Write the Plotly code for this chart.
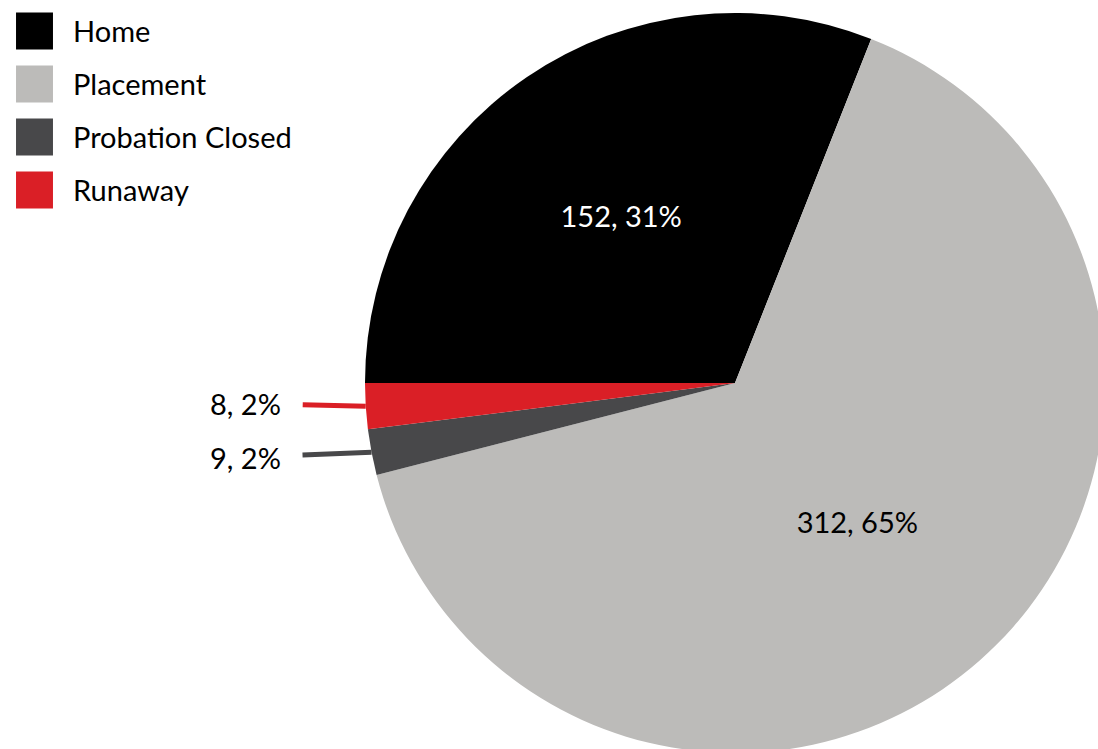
import math
import plotly.graph_objects as go

categories = ["Home", "Placement", "Probation Closed", "Runaway"]
counts = [152, 312, 9, 8]
percents = [31, 65, 2, 2]
colors = ["#000000", "#bcbbb9", "#48484a", "#da1f26"]
text_colors = ["#ffffff", "#000000", "#000000", "#000000"]
inside = ["inside", "inside", "none", "none"]

W, H = 1110, 760
mt, mb, ml, mr = 13, 7, 0, 0
dom_x = [0.3288, 0.9955]
dom_y = [0.0, 1.0]
FONT = "Lato"

labels_txt = [f"{c}, {p}%" for c, p in zip(counts, percents)]
total = sum(percents)

fig = go.Figure(go.Pie(
    labels=categories, values=percents, sort=False, direction="clockwise",
    rotation=-90, domain=dict(x=dom_x, y=dom_y),
    marker=dict(colors=colors, line=dict(width=0)),
    text=labels_txt, textinfo="text", textposition=inside,
    insidetextorientation="horizontal",
    insidetextfont=dict(color=text_colors, size=29, family=FONT),
    customdata=counts,
    hovertemplate="%{label}: %{customdata} (%{value}%)<extra></extra>",
))

# leader-line labels for the small slices, anchored at the slice edge computed from the data
pw, ph = W - ml - mr, H - mt - mb
cx = (dom_x[0] + dom_x[1]) / 2
cy = (dom_y[0] + dom_y[1]) / 2
r_px = min((dom_x[1] - dom_x[0]) * pw, (dom_y[1] - dom_y[0]) * ph) / 2
label_offsets = {2: (-126, 5), 3: (-120, -3)}
ann = []
cum = 0
for i, v in enumerate(percents):
    start = cum
    cum += v
    if inside[i] != "none":
        continue
    mid = 270 + 360 * (start + v / 2) / total  # clockwise from 12 o'clock
    a = math.radians(mid)
    ex = cx + r_px * math.sin(a) / pw
    ey = cy + r_px * math.cos(a) / ph
    ax, ay = label_offsets[i]
    ann.append(dict(
        x=ex, y=ey, xref="paper", yref="paper", text=labels_txt[i],
        showarrow=True, arrowhead=0, arrowwidth=5, arrowcolor=colors[i],
        ax=ax, ay=ay, standoff=0, startstandoff=20,
        font=dict(size=29, family=FONT, color="#000000"),
    ))

fig.update_layout(
    width=W, height=H, margin=dict(l=ml, r=mr, t=mt, b=mb, autoexpand=False),
    paper_bgcolor="white", plot_bgcolor="white",
    font=dict(family=FONT, size=29, color="#000000"),
    showlegend=True,
    legend=dict(x=0, y=1, xanchor="left", yanchor="top", yref="container",
                font=dict(size=29, family=FONT, color="#000000"),
                bgcolor="rgba(0,0,0,0)"),
    annotations=ann,
)

# enlarge legend swatches and spacing to match the reference styling
post = """
document.body.style.margin = '0';
document.body.style.overflow = 'hidden';
var gd = document.getElementById('{plot_id}');
var leg = gd.querySelector('g.legend');
if (leg) {
  leg.setAttribute('transform', 'translate(0,0)');
  var sb = leg.querySelector('.scrollbox');
  if (sb) { sb.removeAttribute('clip-path'); sb.setAttribute('transform', 'translate(0,0)'); }
  var grp = leg.querySelectorAll('g.groups');
  grp.forEach(function(g){ g.setAttribute('transform', 'translate(0,0)'); });
  var items = leg.querySelectorAll('g.traces');
  items.forEach(function(g, i){
    g.setAttribute('transform', 'translate(0,' + (31 + 53 * i) + ')');
    var p = g.querySelector('path.legendpie');
    if (p) p.setAttribute('transform', 'translate(34.5,0) scale(3.08)');
    var t = g.querySelector('text.legendtext');
    if (t) { t.setAttribute('x', '73'); t.querySelectorAll('tspan').forEach(function(s){ if (s.getAttribute('x')) s.setAttribute('x','73'); }); }
  });
}
"""
fig.write_html("out.html", post_script=post, config={"displayModeBar": False})
